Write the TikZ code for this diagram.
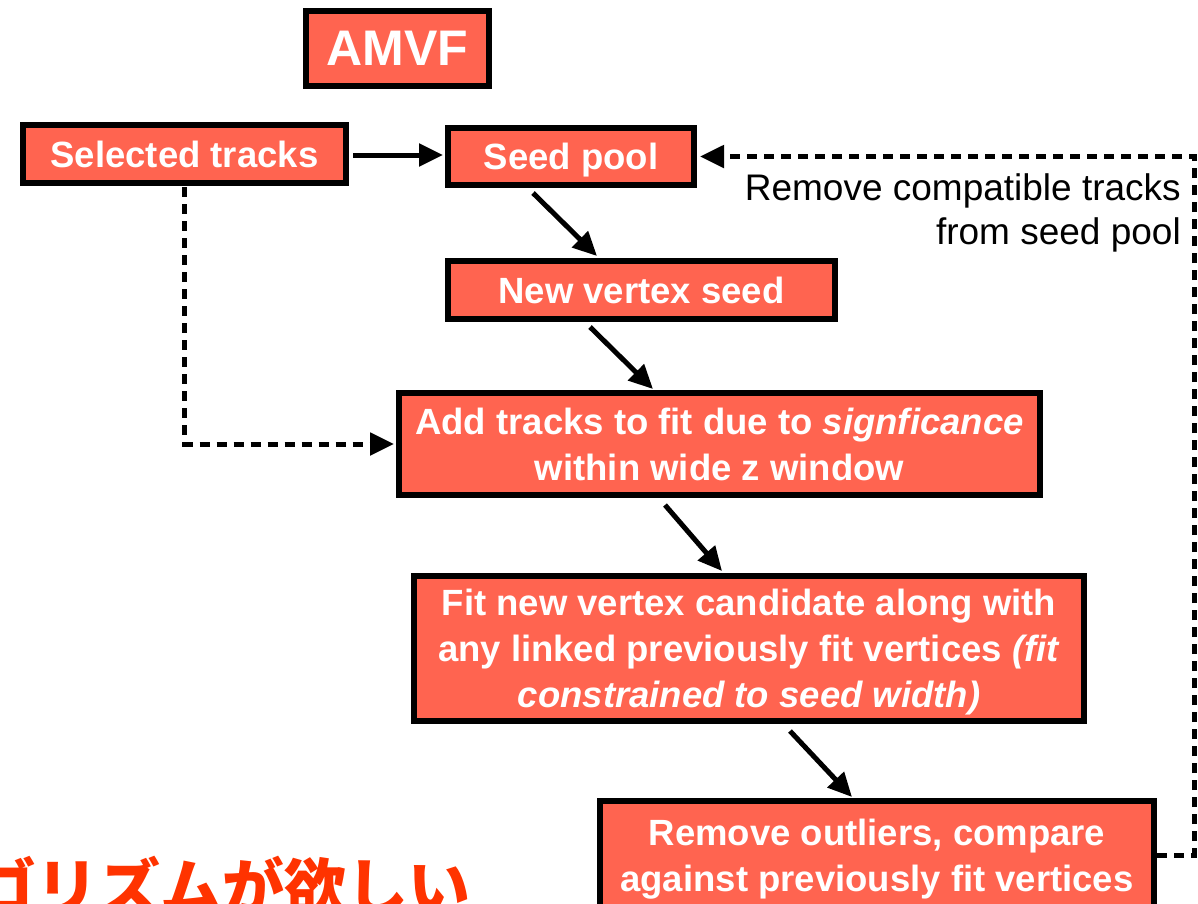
\documentclass[tikz,border=0pt]{standalone}
\usepackage{fontspec}
\setmainfont{Liberation Sans}
\newfontfamily\cjkfont{Noto Sans CJK JP}
\usetikzlibrary{arrows.meta,calc}
\definecolor{boxfill}{RGB}{255,100,80}
\definecolor{jpred}{RGB}{255,51,0}
\begin{document}
\begin{tikzpicture}[x=1pt,y=-1pt,
  box/.style={draw=black,line width=6pt,fill=boxfill,text=white,
    font=\bfseries\fontsize{36.5}{46}\selectfont,align=center,inner sep=0pt},
  arr/.style={line width=5pt,-{Triangle[length=24pt,width=22pt]}},
  dline/.style={line width=5pt,dash pattern=on 10pt off 7pt},
  darr/.style={dline,-{Triangle[length=24pt,width=22pt]}}]
\useasboundingbox (0,0) rectangle (1198,903);
\clip (0,0) rectangle (1198,903);

% boxes
\node[box,minimum width=183pt,minimum height=75pt,
  font=\bfseries\fontsize{50}{60}\selectfont] (amvf) at (397.5,48.5) {AMVF};
\node[box,minimum width=323pt,minimum height=58pt] (sel) at (184.5,154) {Selected tracks};
\node[box,minimum width=246pt,minimum height=57pt] (seed) at (571,156.5)
  {\raisebox{0pt}[\height][0pt]{Seed pool}};
\node[box,minimum width=387pt,minimum height=58pt] (newv) at (641.5,290) {New vertex seed};
\node[box,minimum width=641pt,minimum height=102pt] (add) at (719.5,444)
  {Add tracks to fit due to \textit{signficance}\\within wide z window};
\node[box,minimum width=670pt,minimum height=145pt] (fit) at (749,648.5)
  {Fit new vertex candidate along with\\any linked previously fit vertices \textit{(fit}\\
   \raisebox{0pt}[\height][0pt]{\textit{constrained to seed width)}}};
\node[box,minimum width=554pt,minimum height=108pt] (rem) at (877,855)
  {Remove outliers, compare\\\raisebox{0pt}[\height][0pt]{against previously fit vertices}};

% label
\node[anchor=north east,inner sep=0pt,align=right,
  font=\fontsize{37}{44}\selectfont] (lbl) at (1181,173)
  {Remove compatible tracks\\from seed pool};

% Japanese text (cropped by the picture's edges)
\node[anchor=base west,inner sep=0pt,text=jpred,
  font=\cjkfont\bfseries\fontsize{62}{62}\selectfont] (jp) at (-26,910) {ゴリズムが欲しい};

% solid arrows
\draw[arr] ($(sel.east)+(4,1)$) -- ($(sel.east -| seed.west)+(-2,1)$);
\draw[arr] ($(seed.south west)+(88,5)$) -- ($(newv.north west)+(152,-2)$);
\draw[arr] ($(newv.south west)+(145,5)$) -- ($(add.north west)+(257,-1)$);
\draw[arr] ($(add.south west)+(269,7)$) -- ($(fit.north west)+(311,-2)$);
\draw[arr] ($(fit.south west)+(379,7)$) -- ($(rem.north west)+(255,-1)$);

% dashed connectors
\draw[darr] ($(sel.south)+(0,1)$) -- (sel.south |- add.west) -- ($(add.west)+(-2,0)$);
\coordinate (fb) at (1194,0);
\draw[darr] (rem.east) -- (rem.east -| fb) -- (fb |- seed.east) -- ($(seed.east)+(3,0)$);
\end{tikzpicture}
\end{document}
